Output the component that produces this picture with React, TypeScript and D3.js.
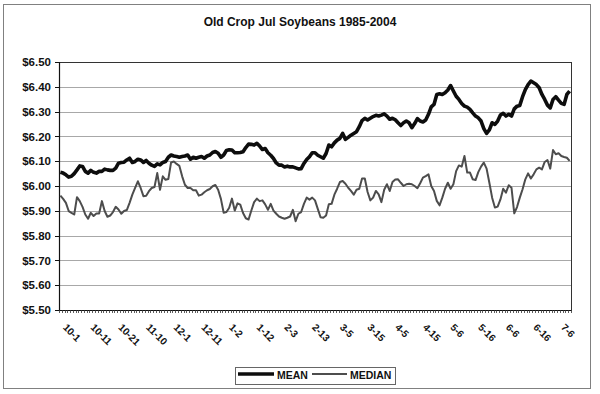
import * as d3 from "d3";

// x-axis labels, one every 10 trading days from Oct 1
const tickLabels = ["10-1", "10-11", "10-21", "11-10", "12-1", "12-11", "1-2", "1-12", "2-3", "2-13",
  "3-5", "3-15", "4-5", "4-15", "5-6", "5-16", "6-6", "6-16", "7-6"];
const tickEvery = 10;

const yTicks = [5.5, 5.6, 5.7, 5.8, 5.9, 6.0, 6.1, 6.2, 6.3, 6.4, 6.5];

const mean = [
  6.055, 6.052, 6.045, 6.036, 6.039, 6.05, 6.065, 6.081, 6.079, 6.059,
  6.052, 6.063, 6.055, 6.052, 6.059, 6.059, 6.068, 6.065, 6.063, 6.063,
  6.072, 6.092, 6.095, 6.096, 6.105, 6.112, 6.095, 6.099, 6.108, 6.105,
  6.095, 6.103, 6.092, 6.084, 6.079, 6.089, 6.085, 6.095, 6.099, 6.116,
  6.125, 6.121, 6.119, 6.116, 6.119, 6.121, 6.125, 6.108, 6.116, 6.112,
  6.116, 6.119, 6.112, 6.121, 6.125, 6.135, 6.139, 6.132, 6.116, 6.125,
  6.143, 6.146, 6.145, 6.134, 6.134, 6.135, 6.138, 6.155, 6.169, 6.168,
  6.165, 6.172, 6.161, 6.147, 6.151, 6.134, 6.124, 6.111, 6.093, 6.084,
  6.084, 6.077, 6.08, 6.077, 6.077, 6.073, 6.069, 6.07, 6.091, 6.107,
  6.118, 6.134, 6.134, 6.124, 6.118, 6.112, 6.131, 6.165, 6.158, 6.174,
  6.185, 6.192, 6.212, 6.188, 6.196, 6.205, 6.212, 6.219, 6.239, 6.264,
  6.273, 6.266, 6.273, 6.28, 6.285, 6.282, 6.286, 6.291, 6.282, 6.269,
  6.273, 6.267, 6.255, 6.244, 6.255, 6.262, 6.255, 6.235, 6.252, 6.272,
  6.262, 6.258, 6.266, 6.289, 6.319, 6.329, 6.369, 6.372, 6.369, 6.376,
  6.387, 6.405, 6.383, 6.362, 6.349, 6.333, 6.322, 6.318, 6.309, 6.295,
  6.282, 6.275, 6.262, 6.231, 6.212, 6.226, 6.255, 6.248, 6.262, 6.286,
  6.293, 6.282, 6.289, 6.282, 6.311, 6.322, 6.325, 6.36, 6.389, 6.409,
  6.423, 6.416, 6.409, 6.396, 6.369, 6.349, 6.326, 6.315, 6.349, 6.36,
  6.346, 6.333, 6.329, 6.369, 6.383,
];

const median = [
  5.961, 5.948, 5.932, 5.899, 5.892, 5.885, 5.955, 5.939, 5.916, 5.885,
  5.868, 5.892, 5.879, 5.889, 5.889, 5.939, 5.899, 5.876, 5.881, 5.895,
  5.916, 5.905, 5.888, 5.899, 5.903, 5.932, 5.965, 5.992, 6.019, 5.992,
  5.959, 5.961, 5.979, 5.992, 5.996, 6.052, 5.985, 6.039, 6.025, 6.028,
  6.095, 6.099, 6.089, 6.081, 6.039, 6.005, 5.992, 5.992, 5.983, 5.983,
  5.961, 5.965, 5.975, 5.983, 5.988, 5.999, 6.004, 5.985, 5.948, 5.892,
  5.895, 5.912, 5.949, 5.901, 5.93, 5.925, 5.891, 5.87, 5.865, 5.901,
  5.935, 5.949, 5.939, 5.942, 5.926, 5.904, 5.928, 5.901, 5.888, 5.877,
  5.872, 5.868, 5.872, 5.877, 5.904, 5.858, 5.888, 5.895, 5.928, 5.953,
  5.945, 5.953, 5.942, 5.908, 5.874, 5.872, 5.881, 5.926, 5.928, 5.965,
  5.989, 6.016, 6.02, 6.009, 5.993, 5.98, 5.965, 5.985, 5.989, 6.03,
  6.03, 5.976, 5.942, 5.953, 5.98, 5.966, 5.935, 5.985, 6.007, 5.98,
  6.016, 6.026, 6.027, 6.013, 6.0, 6.007, 6.009, 6.007, 6.0, 5.991,
  6.011, 6.034, 6.04, 6.047, 6.0, 5.98, 5.94, 5.922, 5.953, 5.989,
  6.013, 5.989, 6.007, 6.06, 6.083, 6.078, 6.121, 6.054, 6.054, 6.027,
  6.024, 6.056, 6.078, 6.094, 6.07, 6.013, 5.953, 5.913, 5.917, 5.946,
  5.989, 5.973, 6.003, 5.993, 5.89, 5.915, 5.953, 5.987, 6.027, 6.051,
  6.03, 6.047, 6.067, 6.074, 6.067, 6.097, 6.105, 6.07, 6.145, 6.128,
  6.132, 6.121, 6.117, 6.114, 6.101,
];

const font = "'Liberation Sans', Arial, Helvetica, sans-serif";

const W = 600;
const H = 394;
const left = 59, right = 571, top = 62, bottom = 310;

export default function App() {
  const idx = d3.range(mean.length);
  const x = d3.scaleBand<number>().domain(idx).range([left, right]);
  const cx = (i: number) => (x(i) as number) + x.bandwidth() / 2;
  const y = d3.scaleLinear().domain([5.5, 6.5]).range([bottom, top]);

  const line = d3.line<number>().x((_, i) => cx(i)).y((d) => y(d));

  return (
    <svg width={W} height={H} style={{ position: "absolute", left: 0, top: 0, background: "#fff" }} fontFamily={font}>
      <rect x={3.5} y={4.5} width={587} height={384} fill="#fff" stroke="#808080" />
      <text x={300} y={26} textAnchor="middle" fontSize={12} fontWeight="bold" fill="#111">
        Old Crop Jul Soybeans 1985-2004
      </text>

      {/* grid */}
      {yTicks.map((t) => (
        <line key={t} x1={left} x2={right} y1={Math.round(y(t)) + 0.5} y2={Math.round(y(t)) + 0.5} stroke="#a8a8a8" />
      ))}
      <rect x={left + 0.5} y={top + 0.5} width={right - left} height={bottom - top} fill="none" stroke="#333" />

      {/* y axis */}
      <line x1={left + 0.5} x2={left + 0.5} y1={top} y2={bottom} stroke="#111" strokeWidth={1.2} />
      {yTicks.map((t) => (
        <g key={"y" + t}>
          <line x1={left - 4} x2={left} y1={Math.round(y(t)) + 0.5} y2={Math.round(y(t)) + 0.5} stroke="#111" />
          <text x={51} y={y(t)} dy="0.36em" textAnchor="end" fontSize={11.5} fontWeight="bold" fill="#111">
            {d3.format("$.2f")(t)}
          </text>
        </g>
      ))}

      {/* x axis */}
      <line x1={left} x2={right} y1={bottom + 0.5} y2={bottom + 0.5} stroke="#111" strokeWidth={1.2} />
      {idx.concat([mean.length]).map((i) => {
        const xx = Math.round(i < mean.length ? (x(i) as number) : right) + 0.5;
        return <line key={"t" + i} x1={xx} x2={xx} y1={bottom} y2={bottom + 3} stroke="#333" strokeWidth={0.8} />;
      })}
      {tickLabels.map((lab, k) => {
        const px = cx(k * tickEvery) + 2;
        const py = 328;
        return (
          <text key={lab} x={px} y={py} transform={`rotate(45 ${px} ${py})`} fontSize={10} fontWeight="bold" fill="#111">
            {lab}
          </text>
        );
      })}

      {/* series */}
      <path d={line(median) ?? ""} fill="none" stroke="#4d4d4d" strokeWidth={2} strokeLinejoin="round" />
      <path d={line(mean) ?? ""} fill="none" stroke="#0d0d0d" strokeWidth={3.6} strokeLinejoin="round" />

      {/* legend */}
      <rect x={235.5} y={367.5} width={160} height={17} fill="#fff" stroke="#666" />
      <line x1={238} x2={274} y1={374} y2={374} stroke="#0d0d0d" strokeWidth={3.6} />
      <text x={277} y={379} fontSize={10.5} fontWeight="bold" fill="#111">MEAN</text>
      <line x1={312} x2={347} y1={374} y2={374} stroke="#4d4d4d" strokeWidth={2} />
      <text x={350} y={379} fontSize={10.5} fontWeight="bold" fill="#111">MEDIAN</text>
    </svg>
  );
}
